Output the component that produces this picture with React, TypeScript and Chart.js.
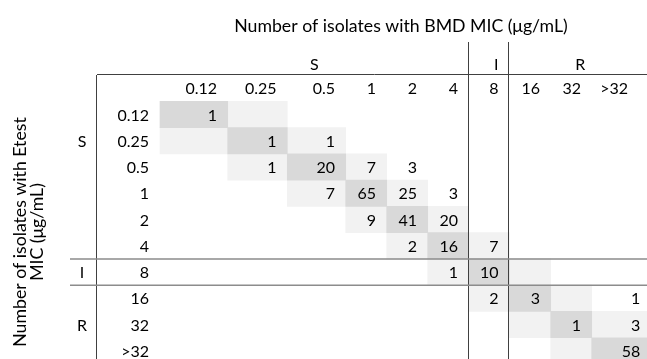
import React, { useEffect, useRef } from "react";
import { Chart, registerables } from "chart.js";
Chart.register(...registerables);

// ---- data ----
const bmdLabels = ["0.12", "0.25", "0.5", "1", "2", "4", "8", "16", "32", ">32"];
const etestLabels = ["0.12", "0.25", "0.5", "1", "2", "4", "8", "16", "32", ">32"];
// counts[row = Etest MIC][col = BMD MIC]
const counts: (number | null)[][] = [
  [1, null, null, null, null, null, null, null, null, null],
  [null, 1, 1, null, null, null, null, null, null, null],
  [null, 1, 20, 7, 3, null, null, null, null, null],
  [null, null, 7, 65, 25, 3, null, null, null, null],
  [null, null, null, 9, 41, 20, null, null, null, null],
  [null, null, null, null, 2, 16, 7, null, null, null],
  [null, null, null, null, null, 1, 10, null, null, null],
  [null, null, null, null, null, null, 2, 3, null, 1],
  [null, null, null, null, null, null, null, null, 1, 3],
  [null, null, null, null, null, null, null, null, null, 58],
];
const bmdGroups = [
  { label: "S", first: 0, last: 5 },
  { label: "I", first: 6, last: 6 },
  { label: "R", first: 7, last: 9 },
];
const etestGroups = [
  { label: "S", first: 0, last: 5 },
  { label: "I", first: 6, last: 6 },
  { label: "R", first: 7, last: 9 },
];
const topTitle = "Number of isolates with BMD MIC (μg/mL)";
const sideTitle = ["Number of isolates with Etest", "MIC (μg/mL)"];

// ---- layout / style ----
const COL_EDGES = [63, 130.7, 190.3, 248.7, 289.7, 330.7, 371.7, 412.3, 453.7, 494.7, 554];
const ETEST_GROUP_LABEL_ROW = [1, 6, 8];
const BMD_GROUP_ALIGN = ["center", "right", "center"];
const FONT = "16px Lato, 'Open Sans', sans-serif";
const TITLE_FONT = "17.7px Lato, 'Open Sans', sans-serif";
const DARK = "#d9d9d9";
const LIGHT = "#f2f2f2";

const HEADER = "__hdr";

function buildCells(diff: number) {
  const out: any[] = [];
  for (let r = 0; r < etestLabels.length; r++) {
    for (let c = 0; c < bmdLabels.length; c++) {
      if (Math.abs(r - c) === diff) {
        out.push({ x: [COL_EDGES[c], COL_EDGES[c + 1]], y: etestLabels[r] });
      }
    }
  }
  return out;
}

const tablePlugin = {
  id: "tableDecor",
  afterDatasetsDraw(chart: any) {
    const { ctx, scales, chartArea } = chart;
    const xs = scales.x;
    const ys = scales.y;
    const px = (v: number) => xs.getPixelForValue(v);
    const band = ys.getPixelForValue(1) - ys.getPixelForValue(0);
    const rowMid = (i: number) => ys.getPixelForValue(i + 1); // i=-1 header
    const rowTop = (i: number) => rowMid(i) - band / 2;
    const bottom = chartArea.bottom;
    const right = chartArea.right;
    const left = chartArea.left;
    const PAD = 10.7;

    ctx.save();
    ctx.font = FONT;
    ctx.fillStyle = "#000";
    ctx.textBaseline = "middle";

    // cell values
    ctx.textAlign = "right";
    for (let r = 0; r < counts.length; r++) {
      for (let c = 0; c < counts[r].length; c++) {
        const v = counts[r][c];
        if (v === null) continue;
        ctx.fillText(String(v), px(COL_EDGES[c + 1]) - PAD, rowMid(r) + 1);
      }
    }
    // column headers
    for (let c = 0; c < bmdLabels.length; c++) {
      let xr = px(COL_EDGES[c + 1]) - PAD;
      if (c === bmdLabels.length - 1) xr = px(COL_EDGES[c + 1]) - 23;
      ctx.fillText(bmdLabels[c], xr, rowMid(-1) + 1);
    }
    // row labels
    for (let r = 0; r < etestLabels.length; r++) {
      ctx.fillText(etestLabels[r], left + 52, rowMid(r) + 1);
    }
    // etest groups
    ctx.textAlign = "center";
    etestGroups.forEach((g, i) => {
      ctx.fillText(g.label, 82, rowMid(ETEST_GROUP_LABEL_ROW[i]) + 1);
    });
    // bmd groups
    bmdGroups.forEach((g, i) => {
      const a = px(COL_EDGES[g.first]);
      const b = px(COL_EDGES[g.last + 1]);
      if (BMD_GROUP_ALIGN[i] === "right") {
        ctx.textAlign = "right";
        ctx.fillText(g.label, b - PAD, 65);
      } else {
        ctx.textAlign = "center";
        ctx.fillText(g.label, (a + b) / 2, 65);
      }
    });
    // titles
    ctx.font = TITLE_FONT;
    ctx.textAlign = "center";
    ctx.textBaseline = "alphabetic";
    ctx.fillText(topTitle, 401, 32);
    ctx.save();
    ctx.translate(0, 232);
    ctx.rotate(-Math.PI / 2);
    ctx.fillText(sideTitle[0], 0, 26);
    ctx.fillText(sideTitle[1], 0, 42.5);
    ctx.restore();

    // lines
    ctx.strokeStyle = "#404040";
    ctx.lineWidth = 1;
    ctx.beginPath();
    ctx.moveTo(Math.round(left) - 0.5, rowTop(-1));
    ctx.lineTo(Math.round(left) - 0.5, bottom);
    ctx.moveTo(left, Math.round(rowTop(-1)) - 0.5);
    ctx.lineTo(right, Math.round(rowTop(-1)) - 0.5);
    for (let gi = 1; gi < bmdGroups.length; gi++) {
      const xv = Math.round(px(COL_EDGES[bmdGroups[gi].first])) - 0.5;
      ctx.moveTo(xv, 42);
      ctx.lineTo(xv, bottom);
    }
    ctx.stroke();
    ctx.strokeStyle = "#8c8c8c";
    ctx.lineWidth = 1.5;
    ctx.beginPath();
    for (let gi = 1; gi < etestGroups.length; gi++) {
      const yv = rowTop(etestGroups[gi].first);
      ctx.moveTo(70, yv);
      ctx.lineTo(right, yv);
    }
    ctx.stroke();
    ctx.restore();
  },
};

export default function App() {
  const ref = useRef<HTMLCanvasElement | null>(null);
  useEffect(() => {
    if (!ref.current) return;
    const chart = new Chart(ref.current, {
      type: "bar",
      data: {
        labels: [HEADER, ...etestLabels],
        datasets: [
          {
            label: "agreement",
            data: buildCells(0),
            backgroundColor: DARK,
            borderWidth: 0,
            barPercentage: 1,
            categoryPercentage: 1,
            grouped: false,
          } as any,
          {
            label: "within one dilution",
            data: buildCells(1),
            backgroundColor: LIGHT,
            borderWidth: 0,
            barPercentage: 1,
            categoryPercentage: 1,
            grouped: false,
          } as any,
        ],
      },
      options: {
        indexAxis: "y",
        animation: false,
        responsive: true,
        maintainAspectRatio: false,
        devicePixelRatio: 1,
        layout: { padding: { left: 97, top: 75, right: 0, bottom: 0 } },
        plugins: { legend: { display: false }, tooltip: { enabled: false } },
        scales: {
          x: { type: "linear", min: 0, max: 555, display: false },
          y: { type: "category", display: false },
        },
      },
      plugins: [tablePlugin],
    });
    return () => chart.destroy();
  }, []);
  return (
    <div style={{ position: "fixed", left: 0, top: 0, width: 647, height: 359, overflow: "hidden", background: "#fff" }}>
      <div style={{ position: "absolute", left: 0, top: 0, width: 652, height: 364 }}>
        <canvas ref={ref} />
      </div>
    </div>
  );
}
